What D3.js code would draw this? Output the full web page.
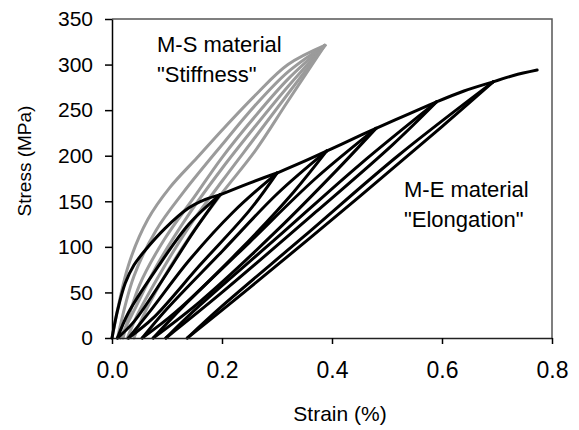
<!DOCTYPE html>
<html>
<head>
<meta charset="utf-8">
<script src="https://cdn.jsdelivr.net/npm/d3@7"></script>
<style>
  body { margin: 0; background: #fff; }
  text { font-family: "Liberation Sans", Arial, sans-serif; fill: #000; }
</style>
</head>
<body>
<div id="chart"></div>
<script>
'use strict';

// axis ticks
var xTicks = [0, 0.2, 0.4, 0.6, 0.8]
var yTicks = [0, 50, 100, 150, 200, 250, 300, 350]

// M-S material (grey): [strain %, stress MPa]
var msLoad1 = [[0,0],[0.03,80],[0.065,130],[0.105,165],[0.155,198],[0.2,228],[0.26,266],[0.32,300],[0.387,321]]
var msLoad2 = [[0.01,0],[0.04,68],[0.08,118],[0.13,160],[0.2,212],[0.26,255],[0.32,292],[0.387,321]]
var msLoad3 = [[0.02,0],[0.05,58],[0.095,108],[0.15,155],[0.2,198],[0.26,243],[0.32,284],[0.387,321]]
var msUnload1 = [[0.387,321],[0.32,276],[0.26,232],[0.2,186],[0.14,136],[0.08,78],[0.04,30],[0.015,0]]
var msUnload2 = [[0.387,321],[0.32,268],[0.26,220],[0.2,172],[0.14,122],[0.085,68],[0.045,24],[0.028,0]]
var msUnload3 = [[0.387,321],[0.32,260],[0.26,205],[0.2,159],[0.14,110],[0.09,62],[0.055,22],[0.04,0]]

// M-E material (black): first loading, then envelope pieces between peaks
var meFirstLoad = [[0,0],[0.01,30],[0.024,60],[0.04,80],[0.06,96],[0.096,120],[0.138,142],[0.17,152],[0.196,157]]
var meEnv1 = [[0.196,157],[0.25,170],[0.30,181]]
var meEnv2 = [[0.30,181],[0.35,194],[0.39,205]]
var meEnv3 = [[0.39,205],[0.44,219],[0.48,230]]
var meEnv4 = [[0.48,230],[0.54,246],[0.59,259]]
var meEnv5 = [[0.59,259],[0.64,271],[0.693,281]]
var meEnv6 = [[0.693,281],[0.73,288],[0.773,294]]

// unload / reload loops at each peak
var meUnload1 = [[0.196,157],[0.15,118],[0.09,62],[0.04,18],[0.01,0]]
var meReload1 = [[0.01,0],[0.03,28],[0.08,75],[0.14,125],[0.196,157]]
var meUnload2 = [[0.30,181],[0.25,140],[0.16,80],[0.075,22],[0.03,0]]
var meReload2 = [[0.03,0],[0.07,30],[0.14,85],[0.22,138],[0.30,181]]
var meUnload3 = [[0.39,205],[0.33,160],[0.23,95],[0.115,28],[0.055,0]]
var meReload3 = [[0.055,0],[0.1,32],[0.2,95],[0.3,158],[0.39,205]]
var meUnload4 = [[0.48,230],[0.41,185],[0.3,118],[0.16,40],[0.075,0]]
var meReload4 = [[0.075,0],[0.13,35],[0.25,105],[0.37,175],[0.48,230]]
var meUnload5 = [[0.59,259],[0.51,212],[0.37,138],[0.2,50],[0.098,0]]
var meReload5 = [[0.098,0],[0.16,36],[0.3,110],[0.45,190],[0.59,259]]
var meUnload6 = [[0.693,281],[0.6,232],[0.45,155],[0.25,55],[0.137,0]]
var meReload6 = [[0.137,0],[0.2,35],[0.35,112],[0.52,200],[0.693,281]]

var msCurves = [msLoad1, msLoad2, msLoad3, msUnload1, msUnload2, msUnload3]
var meCurves = [meFirstLoad, meUnload1, meReload1, meEnv1, meUnload2, meReload2, meEnv2,
  meUnload3, meReload3, meEnv3, meUnload4, meReload4, meEnv4,
  meUnload5, meReload5, meEnv5, meUnload6, meReload6, meEnv6]

var W = 579, H = 430
var margin = {top: 19, right: 27, bottom: 92, left: 112},
    width = W - margin.left - margin.right,
    height = H - margin.top - margin.bottom

var x = d3.scaleLinear().domain([0, 0.8]).range([0, width])
var y = d3.scaleLinear().domain([0, 350]).range([height, 0])

var svg = d3.select('#chart').append('svg')
    .attr('width', W)
    .attr('height', H)

var g = svg.append('g')
    .attr('transform', 'translate(' + margin.left + ',' + margin.top + ')')

var line = d3.line()
    .x(function(d){ return x(d[0]) })
    .y(function(d){ return y(d[1]) })
    .curve(d3.curveCatmullRom.alpha(0.5))

// grey curves first, black drawn over them
g.selectAll('.ms')
    .data(msCurves)
  .enter().append('path')
    .attr('class', 'ms')
    .attr('d', line)
    .attr('fill', 'none')
    .attr('stroke', '#9b9b9b')
    .attr('stroke-width', 3)
    .attr('stroke-linejoin', 'round')
    .attr('stroke-linecap', 'round')

g.selectAll('.me')
    .data(meCurves)
  .enter().append('path')
    .attr('class', 'me')
    .attr('d', line)
    .attr('fill', 'none')
    .attr('stroke', '#000')
    .attr('stroke-width', 3)
    .attr('stroke-linejoin', 'round')
    .attr('stroke-linecap', 'round')

// frame top / right
g.append('path')
    .attr('d', 'M0,0H' + width + 'V' + height)
    .attr('fill', 'none')
    .attr('stroke', '#555')
    .attr('stroke-width', 1.5)

// axes
var xAxis = g.append('g')
    .attr('transform', 'translate(0,' + height + ')')
    .call(d3.axisBottom(x).tickValues(xTicks).tickFormat(d3.format('.1f')).tickSize(6).tickSizeOuter(0))
xAxis.select('.domain').attr('stroke', '#222').attr('stroke-width', 1.5)
xAxis.selectAll('.tick line').attr('stroke-width', 1.5)
xAxis.selectAll('text')
    .attr('dy', null)
    .attr('y', 40)
    .style('font-size', '23px')
    .style('font-family', '"Liberation Sans", Arial, sans-serif')

var yAxis = g.append('g')
    .call(d3.axisLeft(y).tickValues(yTicks).tickSize(7).tickSizeOuter(0))
yAxis.select('.domain').attr('stroke', '#000').attr('stroke-width', 1.5)
yAxis.selectAll('.tick line').attr('stroke-width', 1.5)
yAxis.selectAll('text')
    .attr('x', -19)
    .style('font-size', '21px')
    .style('font-family', '"Liberation Sans", Arial, sans-serif')

// axis titles
svg.append('text')
    .attr('x', 340)
    .attr('y', 421)
    .attr('text-anchor', 'middle')
    .style('font-size', '21px')
    .text('Strain (%)')

svg.append('text')
    .attr('transform', 'translate(31,161) rotate(-90)')
    .attr('text-anchor', 'middle')
    .style('font-size', '19px')
    .text('Stress (MPa)')

// annotations
var notes = svg.append('g').style('font-size', '22px')
notes.append('text').attr('x', 157).attr('y', 52).text('M-S material')
notes.append('text').attr('x', 157).attr('y', 82).text('"Stiffness"')
notes.append('text').attr('x', 404).attr('y', 197).text('M-E material')
notes.append('text').attr('x', 404).attr('y', 227).text('"Elongation"')
</script>
</body>
</html>
